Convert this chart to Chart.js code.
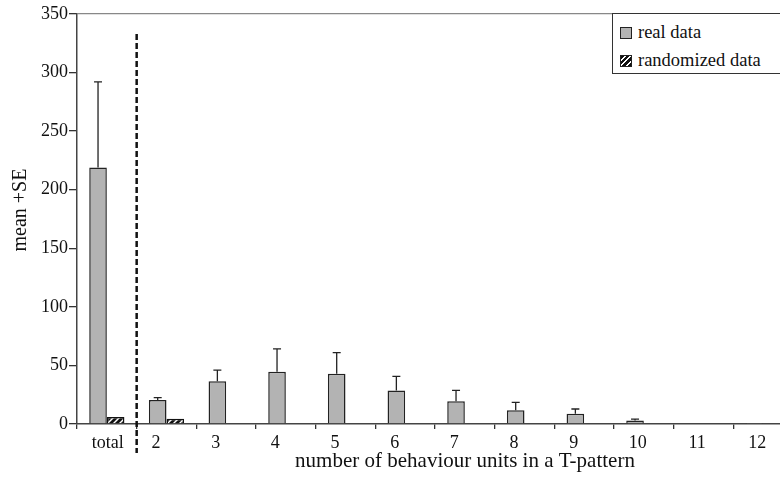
<!DOCTYPE html>
<html>
<head>
<meta charset="utf-8">
<script src="https://cdn.jsdelivr.net/npm/chart.js@4.4.1/dist/chart.umd.min.js"></script>
<style>
  html, body { margin: 0; padding: 0; background: #fff; overflow: hidden; }
  #wrap { position: relative; width: 800px; height: 478px; }
  #legend {
    position: absolute; left: 612px; top: 13px; width: 220px; height: 61px;
    box-sizing: border-box; border: 1px solid #333; background: #fff;
    font-family: "Liberation Serif", "Times New Roman", serif; font-size: 18.5px; color: #111;
  }
  #legend .item { position: absolute; left: 7px; height: 20px; line-height: 20px; white-space: nowrap; }
  #legend .sw { display: inline-block; width: 12px; height: 12px; box-sizing: border-box;
    border: 1px solid #222; vertical-align: -1px; margin-right: 6px; }
</style>
</head>
<body>
<div id="wrap">
  <canvas id="chart" width="800" height="478"></canvas>
  <div id="legend"></div>
</div>
<script>
const categories = ['total', '2', '3', '4', '5', '6', '7', '8', '9', '10', '11', '12'];
const realMean = [219, 20.5, 36.5, 44.7, 43, 28.7, 19.4, 11.7, 8.8, 3, 0.7, 0.5];
const realSE   = [73, 2, 9.5, 19.5, 18, 12, 9.3, 6.8, 4, 1.2, 0, 0];
const randMean = [6, 4.5, 0.6, 0, 0, 0, 0, 0, 0, 0, 0, 0];
const randSE   = [0, 0, 0, 0, 0, 0, 0, 0, 0, 0, 0, 0];
const yTicks = [0, 50, 100, 150, 200, 250, 300, 350];
const xTitle = 'number of behaviour units in a T-pattern';
const yTitle = 'mean +SE';

const serif = '"Liberation Serif", "Times New Roman", serif';

// diagonal hatch for the randomized bars
function hatch() {
    const c = document.createElement('canvas');
    c.width = 6; c.height = 6;
    const g = c.getContext('2d');
    g.fillStyle = '#fff';
    g.fillRect(0, 0, 6, 6);
    g.strokeStyle = '#111';
    g.lineWidth = 2.8;
    g.beginPath();
    g.moveTo(-1, 7); g.lineTo(7, -1);
    g.moveTo(-4, 4); g.lineTo(4, -4);
    g.moveTo(2, 10); g.lineTo(10, 2);
    g.stroke();
    return g.createPattern(c, 'repeat');
}

const errorBars = {
    id: 'errorBars',
    afterDatasetsDraw(chart) {
        const ctx = chart.ctx;
        const y = chart.scales.y;
        chart.data.datasets.forEach((ds, i) => {
            const meta = chart.getDatasetMeta(i);
            meta.data.forEach((bar, j) => {
                const se = ds.se[j];
                if (!se) return;
                const top = y.getPixelForValue(ds.data[j] + se);
                ctx.save();
                ctx.strokeStyle = '#222';
                ctx.lineWidth = 1.3;
                ctx.beginPath();
                ctx.moveTo(bar.x, bar.y);
                ctx.lineTo(bar.x, top);
                ctx.moveTo(bar.x - 4, top);
                ctx.lineTo(bar.x + 4, top);
                ctx.stroke();
                ctx.restore();
            });
        });
    }
};

// dashed separator between "total" and the pattern lengths, plus axis titles
const decorations = {
    id: 'decorations',
    afterDraw(chart) {
        const x = chart.scales.x;
        const y = chart.scales.y;
        const area = chart.chartArea;
        const px = (x.getPixelForValue(0) + x.getPixelForValue(1)) / 2;
        const ctx = chart.ctx;
        ctx.save();
        ctx.strokeStyle = '#111';
        ctx.lineWidth = 2.5;
        ctx.setLineDash([6, 3]);
        ctx.beginPath();
        ctx.moveTo(px, y.getPixelForValue(333));
        ctx.lineTo(px, area.bottom + 29);
        ctx.stroke();
        ctx.restore();

        ctx.save();
        ctx.fillStyle = '#111';
        ctx.textAlign = 'center';
        ctx.textBaseline = 'middle';
        ctx.font = '21px ' + serif;
        ctx.fillText(xTitle, (area.left + area.right) / 2 + 30, area.bottom + 37);
        ctx.translate(21, (area.top + area.bottom) / 2 - 9);
        ctx.rotate(-Math.PI / 2);
        ctx.font = '20px ' + serif;
        ctx.fillText(yTitle, 0, 0);
        ctx.restore();
    }
};

const chart = new Chart(document.getElementById('chart'), {
    type: 'bar',
    data: {
        labels: categories,
        datasets: [
            { label: 'real data', data: realMean, se: realSE, backgroundColor: '#b3b3b3',
              borderColor: '#222', borderWidth: 1.5 },
            { label: 'randomized data', data: randMean, se: randSE, backgroundColor: hatch(),
              borderColor: '#111', borderWidth: 1.5 }
        ]
    },
    options: {
        responsive: false,
        animation: false,
        events: [],
        layout: { padding: { left: 0, right: 7, top: 14, bottom: 0 } },
        datasets: { bar: { categoryPercentage: 0.59, barPercentage: 1 } },
        plugins: { legend: { display: false }, tooltip: { enabled: false } },
        scales: {
            x: {
                grid: { offset: true, color: 'transparent', tickColor: '#333', tickLength: 5, lineWidth: 1.3 },
                border: { color: '#444', width: 1.5 },
                ticks: { color: '#111', padding: 3, align: 'start', labelOffset: -15,
                         font: { family: serif, size: 18 } },
                afterFit(s) { s.height = 54; }
            },
            y: {
                min: 0, max: 350,
                afterBuildTicks(s) { s.ticks = yTicks.map(v => ({ value: v })); },
                grid: {
                    color: c => c.tick && c.tick.value === 350 ? '#888' : 'transparent',
                    tickColor: '#333', tickLength: 8, lineWidth: 1.3
                },
                border: { color: '#444', width: 1.5 },
                ticks: { color: '#111', padding: 1, font: { family: serif, size: 18 } },
                afterFit(s) { s.width = 77; }
            }
        }
    },
    plugins: [errorBars, decorations]
});

// legend box built from the datasets
const legend = document.getElementById('legend');
chart.data.datasets.forEach((ds, i) => {
    const item = document.createElement('div');
    item.className = 'item';
    item.style.top = (i === 0 ? 8 : 36) + 'px';
    const sw = document.createElement('span');
    sw.className = 'sw';
    sw.style.background = i === 0 ? ds.backgroundColor
        : 'repeating-linear-gradient(-45deg, #111 0 2.5px, #fff 2.5px 4px)';
    item.appendChild(sw);
    item.appendChild(document.createTextNode(ds.label));
    legend.appendChild(item);
});
</script>
</body>
</html>
